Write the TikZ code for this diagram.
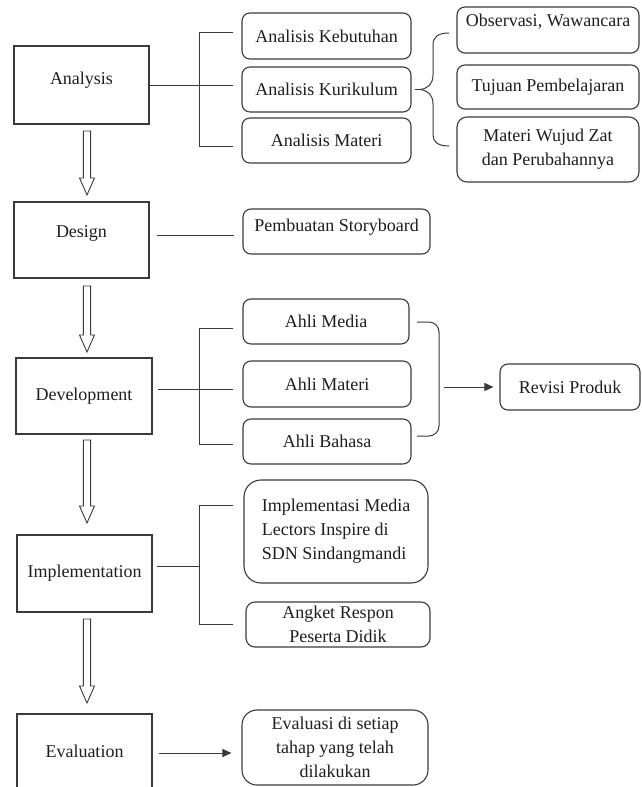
\documentclass[tikz,border=0pt]{standalone}
\usepackage{fontspec}
\setmainfont{Liberation Serif}
\usetikzlibrary{arrows.meta,calc}
\definecolor{linec}{HTML}{3A3A3A}
\definecolor{txtc}{HTML}{1E1E1E}
\newcommand{\bx}[7]{\node[#1, minimum width={#5-#3}, minimum height={#6-#4}] (#2) at ({(#3+#5)/2},{(#4+#6)/2}) {#7};}
\newcommand{\up}[2]{\raisebox{#1pt}[\height][\depth]{#2}}
\newcommand{\harrow}[2]{\draw[hol] let \p1=(#1), \p2=(#2) in
 (\x1-3.6pt,\y1) -- (\x1+3.6pt,\y1) -- (\x1+3.6pt,\y2+17pt) -- (\x1+7.5pt,\y2+17pt) -- (\x1,\y2) -- (\x1-7.5pt,\y2+17pt) -- (\x1-3.6pt,\y2+17pt) -- cycle;}
\begin{document}
\begin{tikzpicture}[x=1pt,y=-1pt, font=\fontsize{18}{24}\selectfont, text=txtc,
 sq/.style={draw=linec, line width=1.1pt, inner sep=0pt},
 rb/.style={draw=linec, line width=1.1pt, rounded corners=8pt, inner sep=0pt},
 ln/.style={draw=linec, line width=1pt},
 tipd/.style={-{Triangle[length=9pt,width=8pt]}},
 hol/.style={draw=linec, line width=0.9pt, fill=white}]
\useasboundingbox (0,0) rectangle (641,787);
% left column
\bx{sq}{an}{14}{46}{149}{124}{\up{5}{Analysis}}
\bx{sq}{de}{14}{202}{149}{278}{\up{7}{Design}}
\bx{sq}{dv}{16}{358}{152}{434}{Development}
\bx{sq}{im}{17}{535}{152}{612}{Implementation}
\bx{sq}{ev}{17}{714}{152}{792}{\up{2}{Evaluation}}
% analysis column
\bx{rb}{keb}{242}{13}{411}{59}{Analisis Kebutuhan}
\bx{rb}{kur}{242}{67}{411}{112}{Analisis Kurikulum}
\bx{rb}{mat}{242}{118}{411}{163}{Analisis Materi}
\bx{rb}{obs}{457}{7}{639}{53}{\up{8}{Observasi, Wawancara}}
\bx{rb}{tuj}{457}{65}{639}{109}{Tujuan Pembelajaran}
\bx{rb,rounded corners=10pt,align=center}{mwz}{457}{117}{639}{182}{Materi Wujud Zat\\dan Perubahannya}
% design
\bx{rb}{sb}{243}{209}{430}{254}{\up{4}{Pembuatan Storyboard}}
% development
\bx{rb}{am}{243}{299}{409}{344}{Ahli Media}
\bx{rb}{amt}{243}{361}{411}{407}{Ahli Materi}
\bx{rb}{ab}{243}{419}{411}{464}{Ahli Bahasa}
\bx{rb}{rev}{500}{364}{640}{410}{Revisi Produk}
% implementation
\bx{rb,rounded corners=17pt,align=left}{imp}{244}{480}{428}{583}{Implementasi Media\\Lectors Inspire di\\SDN Sindangmandi}
\bx{rb,rounded corners=9pt,align=center}{ang}{246}{602}{430}{647}{Angket Respon\\Peserta Didik}
% evaluation
\bx{rb,rounded corners=15pt,align=center}{evb}{242}{710}{428}{785}{Evaluasi di setiap\\tahap yang telah\\dilakukan}

% hollow arrows
\coordinate (h1a) at (87,131); \coordinate (h1b) at (87,195);
\coordinate (h2a) at (87,286); \coordinate (h2b) at (87,352);
\coordinate (h3a) at (87,440); \coordinate (h3b) at (87,523);
\coordinate (h4a) at (87,619); \coordinate (h4b) at (87,703);
\harrow{h1a}{h1b}
\harrow{h2a}{h2b}
\harrow{h3a}{h3b}
\harrow{h4a}{h4b}

% analysis bracket
\coordinate (kx) at (233,0);
\coordinate (aT) at (199,32); \coordinate (aB) at (199,146);
\draw[ln] (an.east) -- (an.east -| kx);
\draw[ln] (aT -| kx) -- (aT) -- (aB) -- (aB -| kx);
% brace
\coordinate (bt) at (420,89.5);
\draw[ln] (kur.east) ++(3,0) -- (bt);
\draw[ln] (bt) .. controls (428,88.5) and (433,84) .. (433,75) -- (433,45) .. controls (433,37) and (438,33) .. (449,33);
\draw[ln] (bt) .. controls (428,90.5) and (433,95) .. (433,104) -- (433,135) .. controls (433,142) and (438,146) .. (449,146);

% design line
\coordinate (dL) at (157,235); \coordinate (dR) at (234,235);
\draw[ln] (dL) -- (dR);

% development bracket
\coordinate (vL) at (158,389); \coordinate (vM) at (199,389);
\coordinate (vT) at (199,328); \coordinate (vB) at (199,444);
\draw[ln] (vL) -- (vL -| kx);
\draw[ln] (vT -| kx) -- (vT) -- (vB) -- (vB -| kx);
\draw[ln, rounded corners=10pt] (417,322) -- (439,322) -- (439,436) -- (417,436);
\coordinate (rk) at (444,387);
\draw[ln, tipd, shorten >=6pt] (rk) -- (rk -| rev.west);

% implementation bracket
\coordinate (iL) at (157,566);
\coordinate (iT) at (199,505); \coordinate (iB) at (199,624);
\draw[ln] (iL) -- (iL -| iT);
\draw[ln] (iT -| kx) -- (iT) -- (iB) -- (iB -| kx);

% evaluation arrow
\draw[ln, tipd, shorten <=6pt, shorten >=10pt] (ev.east) -- (ev.east -| evb.west);
\end{tikzpicture}
\end{document}
